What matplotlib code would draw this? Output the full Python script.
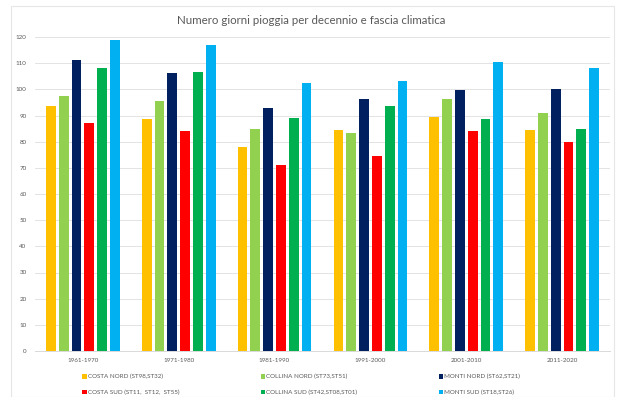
import matplotlib
matplotlib.use("Agg")
import matplotlib.pyplot as plt
import numpy as np
from matplotlib.patches import Rectangle, Patch

plt.rcParams['font.family'] = ['Lato', 'DejaVu Sans']

decades = ["1961-1970", "1971-1980", "1981-1990", "1991-2000", "2001-2010", "2011-2020"]
series_names = ["COSTA NORD (ST98,ST32)", "COLLINA NORD (ST73,ST51)", "MONTI NORD (ST62,ST21)",
                "COSTA SUD (ST11,  ST12,  ST55)", "COLLINA SUD (ST42,ST08,ST01)", "MONTI SUD (ST18,ST26)"]
colors = ["#FFC000", "#92D050", "#002060", "#FF0000", "#00B050", "#00B0F0"]

costa_nord = [93.8, 88.6, 78.0, 84.3, 89.4, 84.5]
collina_nord = [97.3, 95.6, 84.8, 83.4, 96.4, 90.8]
monti_nord = [111.3, 106.2, 93.0, 96.2, 99.7, 100.2]
costa_sud = [87.1, 83.9, 71.1, 74.7, 83.9, 79.7]
collina_sud = [108.3, 106.7, 89.0, 93.5, 88.6, 84.7]
monti_sud = [118.9, 116.8, 102.4, 103.3, 110.6, 108.0]

data = [costa_nord, collina_nord, monti_nord, costa_sud, collina_sud, monti_sud]
yticks = list(range(0, 121, 10))

fig = plt.figure(figsize=(6.21, 3.97), dpi=100)
ax = fig.add_axes([35/621, 1-351/397, (610-35)/621, (351-37)/397])

x = np.arange(len(decades))
slot = 0.1336
bw = 0.102
for i, (vals, c) in enumerate(zip(data, colors)):
    ax.bar(x + (i - 2.5) * slot, vals, width=bw, color=c, zorder=2)

ax.set_xlim(-0.5, len(decades) - 0.5)
ax.set_ylim(0, 120)
ax.set_yticks(yticks)
ax.set_yticklabels([str(t) for t in yticks], fontsize=4.5, color="#595959")
ax.set_xticks(x)
ax.set_xticklabels(decades, fontsize=4.5, color="#595959")
ax.tick_params(axis='both', length=0, pad=6)
ax.tick_params(axis='x', pad=5)
ax.yaxis.grid(True, color="#E3E3E3", linewidth=0.7, zorder=0)
ax.set_axisbelow(True)
for s in ["top", "right", "left"]:
    ax.spines[s].set_visible(False)
ax.spines["bottom"].set_color("#D9D9D9")
ax.spines["bottom"].set_linewidth(0.7)

fig.text(311/621, 1-20/397, "Numero giorni pioggia per decennio e fascia climatica",
         ha="center", va="center", fontsize=8.3, color="#595959")

# legend, column-wise order
order = [0, 3, 1, 4, 2, 5]
handles = [Patch(facecolor=colors[k], edgecolor="none") for k in order]
labels = [series_names[k] for k in order]
leg = fig.legend(handles, labels, loc="center left", bbox_to_anchor=(78/621, 1-384.5/397),
                 ncol=3, frameon=False, fontsize=4.5, handlelength=0.7, handleheight=0.7,
                 handletextpad=0.2, columnspacing=13.0, labelspacing=1.6, borderpad=0.2)
for t in leg.get_texts():
    t.set_color("#595959")

fig.patches.append(Rectangle((11/621, 0), (614-11)/621, 1-6/397, transform=fig.transFigure,
                             fill=False, edgecolor="#E6E6E6", linewidth=0.8))

fig.savefig("out.png", dpi=100, facecolor="white")
